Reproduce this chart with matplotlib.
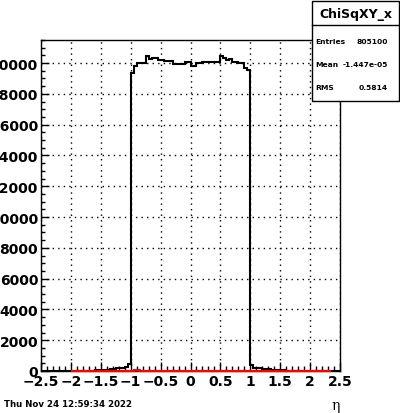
import numpy as np
import matplotlib
matplotlib.use("Agg")
import matplotlib.pyplot as plt
from matplotlib.ticker import MultipleLocator, FuncFormatter
from matplotlib.patches import Rectangle
from matplotlib.lines import Line2D

# ---------------- data ----------------
bin_width = 0.05
x_min, x_max = -2.5, 2.5

left_tail_start = -1.6
left_tail = [65, 65, 65, 65, 65, 130, 130, 175, 175, 175, 240, 450]
central = [19350, 19780, 20000, 20000, 20000, 20430, 20260, 20300, 20300, 20190,
           20190, 20150, 20150, 20150, 19910, 19910, 19950, 19950, 20040, 20100,
           19825, 19825, 19980, 19980, 20040, 20040, 20080, 20080, 20040, 20040,
           20480, 20300, 20190, 20260, 20040, 20040, 20000, 20000, 19650, 19560]
right_tail = [410, 195, 195, 195, 130, 130, 130, 65, 65, 65, 65, 65]

red_start, red_end = -2.0, 2.35
red_bump_start = -0.95
red_bump = [60, 60]

stats_title = "ChiSqXY_x"
stats_labels = ["Entries", "Mean", "RMS"]
stats_values = ["805100", "-1.447e-05", "0.5814"]
date_text = "Thu Nov 24 12:59:34 2022"
x_label = "η"

# ---------------- figure ----------------
W, H = 400, 414
fig = plt.figure(figsize=(W / 100, H / 100), dpi=100)
ax = fig.add_axes([41 / W, 1 - 372 / H, (340 - 41) / W, (372 - 41) / H])

counts_all = np.array(left_tail + central + right_tail, dtype=float)
n_bins = len(counts_all)
edges = left_tail_start + bin_width * np.arange(n_bins + 1)
edges_full = np.concatenate([[x_min], edges, [x_max]])
counts_full = np.concatenate([[0.0], counts_all, [0.0]])
ax.stairs(counts_full, edges_full, color="black", lw=1.5, baseline=None, zorder=3)

n_red = int(round((red_end - red_start) / bin_width))
red_edges = red_start + bin_width * np.arange(n_red + 1)
red_counts = np.zeros(n_red)
i0 = int(round((red_bump_start - red_start) / bin_width))
red_counts[i0:i0 + len(red_bump)] = red_bump
ax.stairs(red_counts, red_edges, color="red", lw=1.6, baseline=None, zorder=4,
          clip_on=False)

ax.xaxis.set_major_locator(MultipleLocator(0.5))
ax.xaxis.set_minor_locator(MultipleLocator(0.1))
ax.yaxis.set_major_locator(MultipleLocator(2000))
ax.yaxis.set_minor_locator(MultipleLocator(500))
ax.set_xlim(x_min, x_max)
ax.set_ylim(0, 21500)

def fmt_x(v, pos=None):
    if abs(v) < 1e-9:
        v = 0.0
    return ("%g" % v).replace("-", "\u2212")

ax.xaxis.set_major_formatter(FuncFormatter(fmt_x))
ax.yaxis.set_major_formatter(FuncFormatter(lambda v, p: "%d" % round(v)))

ax.tick_params(axis="both", which="both", direction="in", top=False, right=False)
ax.tick_params(axis="x", which="major", length=6.5, width=1, pad=2)
ax.tick_params(axis="x", which="minor", length=3.3, width=1)
ax.tick_params(axis="y", which="major", length=6, width=1, pad=2)
ax.tick_params(axis="y", which="minor", length=3, width=1)
ax.tick_params(axis="both", which="major", labelsize=10)
for lab in ax.get_xticklabels() + ax.get_yticklabels():
    lab.set_fontweight("bold")
plt.setp(ax.xaxis.get_majorticklabels(), fontweight="bold")
plt.setp(ax.yaxis.get_majorticklabels(), fontweight="bold")

ax.grid(True, which="major", color="black", linestyle=(0, (1, 3)), lw=1)
ax.set_axisbelow(True)
for sp in ax.spines.values():
    sp.set_linewidth(1)
    sp.set_color("black")

fig.text(340 / W, 1 - 406 / H, x_label, ha="right", va="center",
         fontsize=10, family="DejaVu Serif")

fig.text(4 / W, 1 - 405 / H, date_text, ha="left", va="center",
         fontsize=6.2, fontweight="bold")

bx0, bx1, by0, by1 = 312, 399, 2, 102
fig.patches.append(Rectangle((bx0 / W, 1 - by1 / H), (bx1 - bx0) / W, (by1 - by0) / H,
                             transform=fig.transFigure, facecolor="white",
                             edgecolor="black", lw=1, zorder=10))
fig.lines.append(Line2D([bx0 / W, bx1 / W], [1 - 26 / H, 1 - 26 / H],
                        transform=fig.transFigure, color="black", lw=1, zorder=11))
fig.text((bx0 + bx1) / 2 / W, 1 - 14.5 / H, stats_title, ha="center", va="center",
         fontsize=9, fontweight="bold", zorder=12)
row_y = [41.7, 65, 88.3]
for lab, val, yy in zip(stats_labels, stats_values, row_y):
    fig.text(315 / W, 1 - yy / H, lab, ha="left", va="center", fontsize=5.4,
             fontweight="bold", zorder=12)
    fig.text(388 / W, 1 - yy / H, val, ha="right", va="center", fontsize=5.4,
             fontweight="bold", zorder=12)

fig.savefig("out.png", dpi=100)
